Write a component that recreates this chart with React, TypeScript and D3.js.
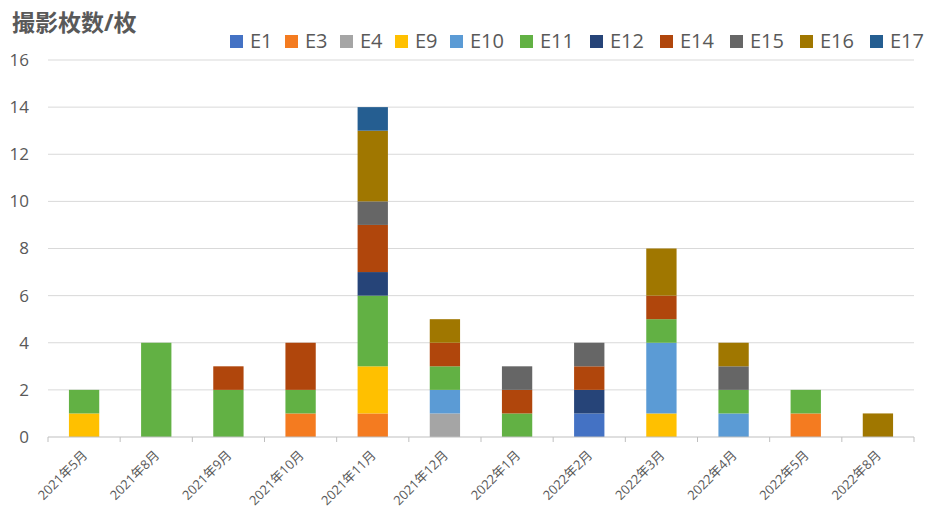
import React from "react"
import { scaleBand, scaleLinear, stack } from "d3"

const months = [
  "2021年5月",
  "2021年8月",
  "2021年9月",
  "2021年10月",
  "2021年11月",
  "2021年12月",
  "2022年1月",
  "2022年2月",
  "2022年3月",
  "2022年4月",
  "2022年5月",
  "2022年8月",
]

const seriesNames = ["E1", "E3", "E4", "E9", "E10", "E11", "E12", "E14", "E15", "E16", "E17"]

const seriesColors = [
  "#4472C4",
  "#F47B20",
  "#A5A5A5",
  "#FFC000",
  "#5B9BD5",
  "#62B144",
  "#264478",
  "#B0460C",
  "#666666",
  "#A07700",
  "#255E91",
]

// one array per series, in month order
const E1 = [0, 0, 0, 0, 0, 0, 0, 1, 0, 0, 0, 0]
const E3 = [0, 0, 0, 1, 1, 0, 0, 0, 0, 0, 1, 0]
const E4 = [0, 0, 0, 0, 0, 1, 0, 0, 0, 0, 0, 0]
const E9 = [1, 0, 0, 0, 2, 0, 0, 0, 1, 0, 0, 0]
const E10 = [0, 0, 0, 0, 0, 1, 0, 0, 3, 1, 0, 0]
const E11 = [1, 4, 2, 1, 3, 1, 1, 0, 1, 1, 1, 0]
const E12 = [0, 0, 0, 0, 1, 0, 0, 1, 0, 0, 0, 0]
const E14 = [0, 0, 1, 2, 2, 1, 1, 1, 1, 0, 0, 0]
const E15 = [0, 0, 0, 0, 1, 0, 1, 1, 0, 1, 0, 0]
const E16 = [0, 0, 0, 0, 3, 1, 0, 0, 2, 1, 0, 1]
const E17 = [0, 0, 0, 0, 1, 0, 0, 0, 0, 0, 0, 0]

const seriesValues = [E1, E3, E4, E9, E10, E11, E12, E14, E15, E16, E17]

const yTicks = [0, 2, 4, 6, 8, 10, 12, 14, 16]

const App = () => {
  const width = 930
  const height = 511
  const plot = { left: 48, right: 914, top: 60, bottom: 437 }
  const textColor = "#595959"
  const font = "'Open Sans', 'Noto Sans CJK SC', sans-serif"

  const rows = months.map((m, i) => {
    const row: Record<string, any> = { month: m }
    seriesNames.forEach((s, j) => (row[s] = seriesValues[j][i]))
    return row
  })
  const layers = stack().keys(seriesNames)(rows as any)

  const xScale = scaleBand()
    .domain(months)
    .range([plot.left, plot.right])
    .paddingInner(0.58)
    .paddingOuter(0.29)

  const yScale = scaleLinear().domain([0, 16]).range([plot.bottom, plot.top])

  const step = xScale.step()

  let legendX = 230
  const legendItems = seriesNames.map((s, i) => {
    const x = legendX
    legendX += s.length > 2 ? 70 : 55
    return { name: s, color: seriesColors[i], x }
  })

  return (
    <svg
      width={width}
      height={height}
      style={{ position: "absolute", left: 0, top: 0, background: "#fff" }}
      fontFamily={font}
    >
      <text x={12} y={31} fontSize={23} fontWeight="bold" fill={textColor}>
        撮影枚数/枚
      </text>

      {legendItems.map((d) => (
        <g key={d.name} transform={`translate(${d.x}, 0)`}>
          <rect x={0} y={35} width={13} height={13} fill={d.color} />
          <text x={20} y={48} fontSize={20} fill={textColor}>
            {d.name}
          </text>
        </g>
      ))}

      {yTicks.map((t) => (
        <g key={t}>
          {t > 0 && (
            <line
              x1={plot.left}
              x2={plot.right}
              y1={yScale(t)}
              y2={yScale(t)}
              stroke="#d9d9d9"
              strokeWidth={1}
            />
          )}
          <text
            x={29}
            y={yScale(t)}
            dy="0.35em"
            textAnchor="end"
            fontSize={17}
            fill={textColor}
          >
            {t}
          </text>
        </g>
      ))}

      {layers.map((layer, i) => (
        <g key={seriesNames[i]} fill={seriesColors[i]}>
          {layer.map((d: any, j: number) =>
            d[1] - d[0] > 0 ? (
              <rect
                key={j}
                x={xScale(months[j])}
                y={yScale(d[1])}
                width={xScale.bandwidth()}
                height={yScale(d[0]) - yScale(d[1])}
              />
            ) : null
          )}
        </g>
      ))}

      <line
        x1={plot.left}
        x2={plot.right}
        y1={plot.bottom}
        y2={plot.bottom}
        stroke="#bfbfbf"
      />
      {months.concat([""]).map((m, i) => (
        <line
          key={i}
          x1={plot.left + i * step}
          x2={plot.left + i * step}
          y1={plot.bottom}
          y2={plot.bottom + 5}
          stroke="#bfbfbf"
        />
      ))}

      {months.map((m) => {
        const cx = (xScale(m) as number) + xScale.bandwidth() / 2
        return (
          <text
            key={m}
            transform={`translate(${cx + 4}, 456) rotate(-45)`}
            textAnchor="end"
            fontSize={13}
            fill={textColor}
          >
            {m}
          </text>
        )
      })}
    </svg>
  )
}

export default App
